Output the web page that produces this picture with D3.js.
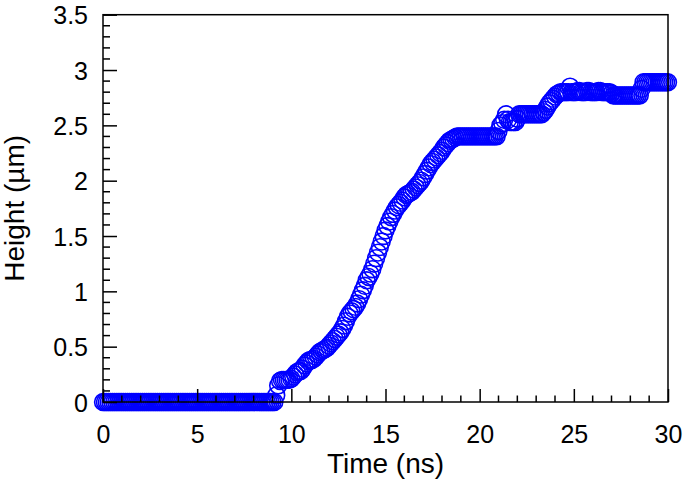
<!DOCTYPE html>
<html><head><meta charset="utf-8">
<script src="https://cdn.jsdelivr.net/npm/d3@7"></script>
<style>body{margin:0;background:#fff}svg{display:block}</style>
</head><body>
<svg id="c" width="685" height="488"></svg>
<script>
// time (ns), sampled every 0.1 ns
const time = [
0,0.1,0.2,0.3,0.4,0.5,0.6,0.7,0.8,0.9,
1,1.1,1.2,1.3,1.4,1.5,1.6,1.7,1.8,1.9,
2,2.1,2.2,2.3,2.4,2.5,2.6,2.7,2.8,2.9,
3,3.1,3.2,3.3,3.4,3.5,3.6,3.7,3.8,3.9,
4,4.1,4.2,4.3,4.4,4.5,4.6,4.7,4.8,4.9,
5,5.1,5.2,5.3,5.4,5.5,5.6,5.7,5.8,5.9,
6,6.1,6.2,6.3,6.4,6.5,6.6,6.7,6.8,6.9,
7,7.1,7.2,7.3,7.4,7.5,7.6,7.7,7.8,7.9,
8,8.1,8.2,8.3,8.4,8.5,8.6,8.7,8.8,8.9,
9,9.1,9.2,9.3,9.4,9.5,9.6,9.7,9.8,9.9,
10,10.1,10.2,10.3,10.4,10.5,10.6,10.7,10.8,10.9,
11,11.1,11.2,11.3,11.4,11.5,11.6,11.7,11.8,11.9,
12,12.1,12.2,12.3,12.4,12.5,12.6,12.7,12.8,12.9,
13,13.1,13.2,13.3,13.4,13.5,13.6,13.7,13.8,13.9,
14,14.1,14.2,14.3,14.4,14.5,14.6,14.7,14.8,14.9,
15,15.1,15.2,15.3,15.4,15.5,15.6,15.7,15.8,15.9,
16,16.1,16.2,16.3,16.4,16.5,16.6,16.7,16.8,16.9,
17,17.1,17.2,17.3,17.4,17.5,17.6,17.7,17.8,17.9,
18,18.1,18.2,18.3,18.4,18.5,18.6,18.7,18.8,18.9,
19,19.1,19.2,19.3,19.4,19.5,19.6,19.7,19.8,19.9,
20,20.1,20.2,20.3,20.4,20.5,20.6,20.7,20.8,20.9,
21,21.1,21.2,21.3,21.4,21.5,21.6,21.7,21.8,21.9,
22,22.1,22.2,22.3,22.4,22.5,22.6,22.7,22.8,22.9,
23,23.1,23.2,23.3,23.4,23.5,23.6,23.7,23.8,23.9,
24,24.1,24.2,24.3,24.4,24.5,24.6,24.7,24.8,24.9,
25,25.1,25.2,25.3,25.4,25.5,25.6,25.7,25.8,25.9,
26,26.1,26.2,26.3,26.4,26.5,26.6,26.7,26.8,26.9,
27,27.1,27.2,27.3,27.4,27.5,27.6,27.7,27.8,27.9,
28,28.1,28.2,28.3,28.4,28.5,28.6,28.7,28.8,28.9,
29,29.1,29.2,29.3,29.4,29.5,29.6,29.7,29.8,29.9,
30];
// height (µm)
const height = [
0,0,0,0,0,0,0,0,0,0,
0,0,0,0,0,0,0,0,0,0,
0,0,0,0,0,0,0,0,0,0,
0,0,0,0,0,0,0,0,0,0,
0,0,0,0,0,0,0,0,0,0,
0,0,0,0,0,0,0,0,0,0,
0,0,0,0,0,0,0,0,0,0,
0,0,0,0,0,0,0,0,0,0,
0,0,0,0,0,0,0,0,0,0,
0,0,0.06,0.15,0.19,0.2,0.2,0.2,0.2,0.2,
0.21,0.23,0.25,0.27,0.28,0.28,0.3,0.33,0.35,0.37,
0.38,0.38,0.39,0.41,0.43,0.45,0.46,0.47,0.48,0.49,
0.51,0.53,0.55,0.57,0.59,0.61,0.63,0.66,0.69,0.73,
0.77,0.8,0.82,0.84,0.86,0.89,0.93,0.97,1.01,1.05,
1.1,1.13,1.16,1.2,1.25,1.3,1.35,1.4,1.45,1.5,
1.55,1.59,1.63,1.67,1.7,1.73,1.76,1.78,1.8,1.82,
1.85,1.87,1.88,1.89,1.9,1.92,1.94,1.96,1.98,2.0,
2.03,2.06,2.09,2.12,2.15,2.17,2.19,2.21,2.23,2.25,
2.27,2.3,2.32,2.34,2.36,2.37,2.38,2.39,2.4,2.4,
2.4,2.4,2.4,2.4,2.4,2.4,2.4,2.4,2.4,2.4,
2.4,2.4,2.4,2.4,2.4,2.4,2.4,2.4,2.4,2.4,
2.45,2.5,2.52,2.55,2.6,2.55,2.53,2.53,2.53,2.53,
2.56,2.6,2.6,2.6,2.6,2.6,2.6,2.6,2.6,2.6,
2.6,2.6,2.6,2.6,2.62,2.64,2.67,2.7,2.72,2.74,
2.76,2.78,2.79,2.8,2.8,2.8,2.8,2.8,2.85,2.8,
2.8,2.8,2.81,2.81,2.8,2.8,2.8,2.81,2.81,2.8,
2.8,2.8,2.8,2.81,2.81,2.8,2.8,2.8,2.8,2.8,
2.79,2.77,2.77,2.77,2.77,2.77,2.77,2.77,2.77,2.77,
2.77,2.77,2.77,2.77,2.77,2.77,2.83,2.89,2.89,2.89,
2.89,2.89,2.89,2.89,2.89,2.89,2.89,2.89,2.89,2.89,
2.89];

const xMajor = [0,5,10,15,20,25,30];
const xMinor = [1,2,3,4,6,7,8,9,11,12,13,14,16,17,18,19,21,22,23,24,26,27,28,29];
const yMajor = [0,0.5,1,1.5,2,2.5,3,3.5];
const yMinor = [0.1,0.2,0.3,0.4,0.6,0.7,0.8,0.9,1.1,1.2,1.3,1.4,1.6,1.7,1.8,1.9,2.1,2.2,2.3,2.4,2.6,2.7,2.8,2.9,3.1,3.2,3.3,3.4];
const xTitle = "Time (ns)";
const yTitle = "Height (µm)";

const L = 103, R = 668, T = 14.7, B = 402;
const x = d3.scaleLinear().domain([0,30]).range([L,R]);
const y = d3.scaleLinear().domain([0,3.5]).range([B,T]);
const svg = d3.select("#c");
const font = "'Liberation Sans', Arial, Helvetica, sans-serif";

// markers
svg.append("g").selectAll("circle").data(time).join("circle")
  .attr("cx", d => x(d)).attr("cy", (d,i) => y(height[i]))
  .attr("r", 8.4).attr("fill", "none").attr("stroke", "#0000ff").attr("stroke-width", 1.6);

// frame
svg.append("rect").attr("x", L).attr("y", T).attr("width", R-L).attr("height", B-T)
  .attr("fill", "none").attr("stroke", "#000").attr("stroke-width", 1.5);

// bottom axis: inward ticks
const xa = svg.append("g").attr("transform", `translate(0,${B})`);
xa.call(d3.axisBottom(x).tickValues(xMajor).tickSize(-13).tickPadding(0).tickFormat(d3.format("d")));
xa.select(".domain").remove();
xa.selectAll(".tick line").attr("stroke-width", 1.5);
xa.selectAll(".tick text").attr("font-family", font).attr("font-size", 25).attr("fill", "#000")
  .attr("y", 0).attr("dy", "1.62em");
xa.append("g").selectAll("line").data(xMinor).join("line")
  .attr("x1", d => x(d)).attr("x2", d => x(d)).attr("y1", 0).attr("y2", -6.5)
  .attr("stroke", "#000").attr("stroke-width", 1.5);

// left axis
const ya = svg.append("g").attr("transform", `translate(${L},0)`);
ya.call(d3.axisLeft(y).tickValues(yMajor).tickSize(-14).tickPadding(0).tickFormat(d => String(d)));
ya.select(".domain").remove();
ya.selectAll(".tick line").attr("stroke-width", 1.5);
ya.selectAll(".tick text").attr("font-family", font).attr("font-size", 25).attr("fill", "#000")
  .attr("x", -15).attr("dy", "0.36em");
ya.append("g").selectAll("line").data(yMinor).join("line")
  .attr("y1", d => y(d)).attr("y2", d => y(d)).attr("x1", 0).attr("x2", 7)
  .attr("stroke", "#000").attr("stroke-width", 1.5);

// titles
svg.append("text").attr("x", (L+R)/2).attr("y", 473).attr("text-anchor", "middle")
  .attr("font-family", font).attr("font-size", 28).attr("fill", "#000").text(xTitle);
svg.append("text").attr("transform", `translate(24,${(T+B)/2}) rotate(-90)`).attr("text-anchor", "middle")
  .attr("font-family", font).attr("font-size", 28).attr("fill", "#000").text(yTitle);
</script>
</body></html>
